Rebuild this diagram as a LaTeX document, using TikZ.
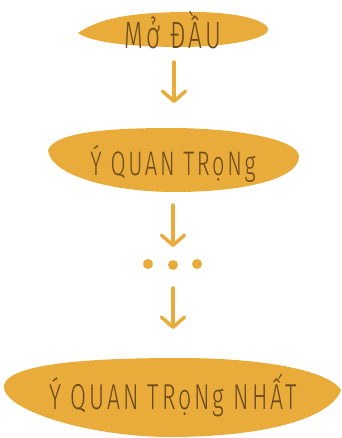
\documentclass[tikz,border=0pt]{standalone}
\usepackage{fontspec}
\setmainfont{Fira Sans Light}[FakeStretch=0.64,LetterSpace=8]
\usetikzlibrary{arrows.meta}
\definecolor{Mustard}{RGB}{233,172,58}
\definecolor{Cocoa}{RGB}{107,74,30}
\tikzset{
  blob/.style={fill=Mustard},
  heading/.style={text=Cocoa,inner sep=0pt,anchor=center},
  arrow/.style={-{Straight Barb[length=10pt,width=23pt,round]},
    line width=3.5pt,line cap=round,Mustard},
  dot/.style={circle,fill=Mustard,inner sep=0pt,minimum size=10pt}
}

\begin{document}
\begin{tikzpicture}[x=1pt,y=-1pt]
  \useasboundingbox (0,0) rectangle (341,438);
  % blobs
  \fill[blob] (78,33) .. controls (100,18) and (130,13) .. (180,12)
    .. controls (230,11) and (262,18) .. (268,28)
    .. controls (272,38) and (230,47) .. (180,47)
    .. controls (130,47) and (90,42) .. (78,33);
  \fill[blob] (48,150) .. controls (55,132) and (110,128) .. (170,128)
    .. controls (240,128) and (300,140) .. (299,157)
    .. controls (298,180) and (240,192) .. (175,192)
    .. controls (110,192) and (50,175) .. (48,150);
  \fill[blob] (4,385) .. controls (10,362) and (100,358) .. (180,358)
    .. controls (270,358) and (330,372) .. (341,390)
    .. controls (330,420) and (260,437) .. (170,437)
    .. controls (90,437) and (0,410) .. (4,385);
  % texts
  \node[heading,font=\fontsize{38}{40}\selectfont] (intro) at (173,30) {Mở ĐẦU};
  \node[heading,font=\fontsize{34}{36}\selectfont] (idea) at (173,164) {Ý QUAN TRọNg};
  \node[heading,font=\fontsize{36}{40}\selectfont] (keyidea) at (173,395) {Ý QUAN TRọNg NHẤT};
  % dots
  \node[dot] (d1) at (148,264) {};
  \node[dot] (d2) at (173,265) {};
  \node[dot] (d3) at (197,264) {};
  % arrows
  \coordinate (a1) at (174,62);
  \coordinate (b1) at (174,103);
  \coordinate (a2) at (173,205);
  \coordinate (b2) at (173,247);
  \coordinate (a3) at (173,288);
  \coordinate (b3) at (173,329);
  \draw[arrow] (a1) -- (b1);
  \draw[arrow] (a2) -- (b2);
  \draw[arrow] (a3) -- (b3);
\end{tikzpicture}
\end{document}
